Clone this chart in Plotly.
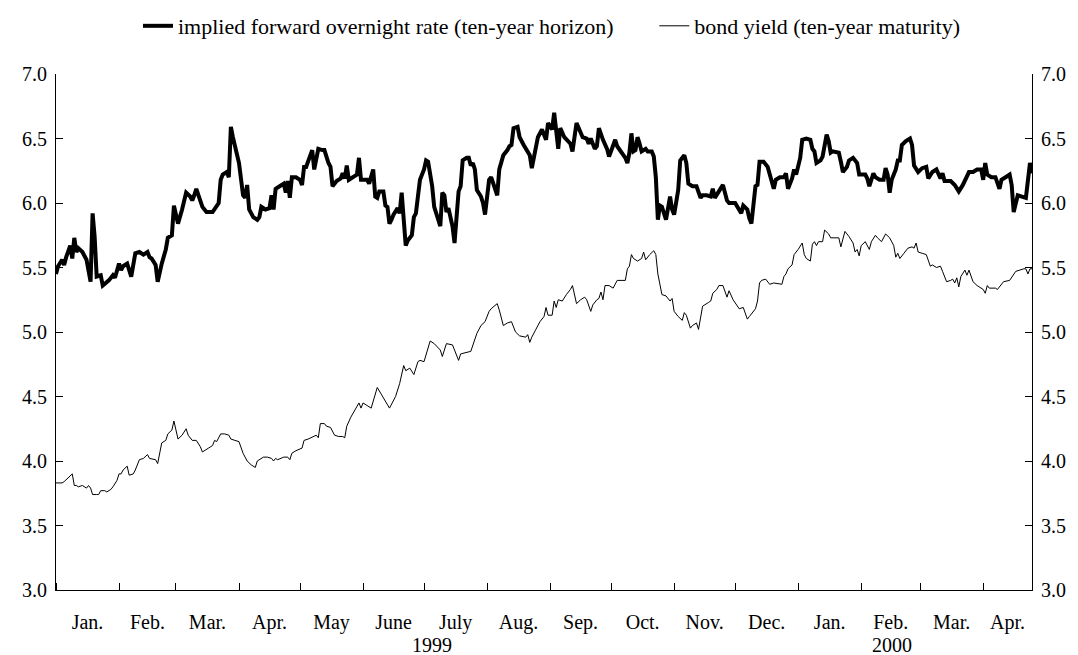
import pandas as pd
import plotly.graph_objects as go

# ---------------- data ----------------
# x values: calendar days since 1999-01-01
fwd_day = [
    0, 1, 3, 4, 5, 7, 8, 9, 10, 11,
    13, 15, 17, 18, 19, 20, 22, 23, 26, 28,
    29, 31, 32, 33, 35, 37, 39, 41, 43, 45,
    46, 47, 49, 50, 52, 54, 55, 57, 58, 60,
    62, 64, 66, 67, 68, 69, 72, 74, 77, 79,
    80, 81, 82, 84, 85, 86, 87, 90, 92, 93,
    94, 95, 97, 99, 100, 101, 103, 105, 106, 107,
    108, 110, 112, 113, 114, 115, 116, 118, 120, 121,
    122, 123, 124, 126, 127, 129, 131, 132, 134, 135,
    136, 138, 140, 141, 142, 143, 144, 146, 148, 149,
    150, 153, 154, 156, 157, 158, 159, 161, 162, 163,
    164, 165, 166, 168, 169, 170, 172, 173, 175, 176,
    177, 178, 179, 181, 182, 183, 185, 186, 187, 189,
    190, 191, 192, 193, 195, 196, 197, 198, 199, 200,
    202, 203, 204, 205, 206, 207, 209, 210, 211, 213,
    214, 215, 217, 218, 220, 222, 223, 224, 225, 227,
    228, 230, 232, 233, 234, 236, 237, 239, 241, 242,
    243, 244, 245, 246, 247, 248, 250, 253, 254, 256,
    258, 259, 261, 262, 263, 265, 266, 267, 269, 271,
    272, 274, 275, 276, 278, 280, 281, 282, 283, 284,
    285, 286, 287, 288, 290, 291, 293, 294, 295, 296,
    297, 298, 300, 301, 302, 303, 304, 306, 307, 309,
    310, 311, 313, 315, 317, 318, 320, 322, 323, 324,
    326, 328, 330, 331, 334, 335, 337, 338, 340, 341,
    342, 344, 345, 346, 348, 350, 351, 353, 354, 356,
    358, 359, 360, 362, 363, 364, 366, 367, 369, 371,
    372, 373, 374, 376, 377, 379, 380, 381, 382, 385,
    386, 387, 389, 390, 392, 394, 395, 398, 399, 400,
    402, 403, 405, 407, 408, 409, 410, 411, 413, 414,
    415, 416, 418, 420, 421, 422, 424, 426, 428, 429,
    431, 433, 435, 436, 437, 440, 442, 444, 446, 448,
    449, 451, 453, 455, 456, 457, 458, 460, 462, 464,
    465, 467, 469, 470, 471, 473, 475, 477, 479, 480,
]
fwd_val = [
    5.45, 5.51, 5.56, 5.52, 5.58, 5.67, 5.57, 5.73, 5.62, 5.65,
    5.62, 5.56, 5.39, 5.92, 5.74, 5.43, 5.44, 5.36, 5.40, 5.44,
    5.42, 5.53, 5.48, 5.51, 5.53, 5.43, 5.61, 5.62, 5.60, 5.62,
    5.58, 5.57, 5.52, 5.39, 5.53, 5.64, 5.73, 5.75, 5.98, 5.84,
    5.95, 6.08, 6.05, 6.02, 6.06, 6.11, 5.97, 5.93, 5.93, 5.98,
    6.00, 6.18, 6.22, 6.24, 6.20, 6.59, 6.51, 6.31, 6.06, 6.04,
    6.14, 5.95, 5.89, 5.87, 5.89, 5.97, 5.95, 5.96, 6.06, 5.95,
    6.11, 6.13, 6.15, 6.08, 6.17, 6.04, 6.20, 6.20, 6.18, 6.14,
    6.28, 6.28, 6.32, 6.41, 6.26, 6.42, 6.41, 6.41, 6.31, 6.28,
    6.13, 6.17, 6.19, 6.23, 6.19, 6.29, 6.18, 6.20, 6.22, 6.35,
    6.18, 6.18, 6.15, 6.26, 6.05, 6.04, 6.09, 6.09, 5.98, 5.97,
    5.84, 5.87, 5.91, 5.96, 5.92, 6.08, 5.67, 5.71, 5.75, 5.89,
    5.92, 6.05, 6.18, 6.26, 6.33, 6.32, 6.13, 5.97, 5.91, 5.82,
    6.08, 6.06, 5.93, 5.96, 5.82, 5.69, 5.89, 6.09, 6.13, 6.33,
    6.35, 6.35, 6.29, 6.31, 6.26, 6.10, 6.05, 6.00, 5.91, 6.18,
    6.20, 6.15, 6.06, 6.26, 6.37, 6.41, 6.44, 6.45, 6.58, 6.59,
    6.51, 6.45, 6.40, 6.37, 6.27, 6.41, 6.51, 6.57, 6.49, 6.62,
    6.59, 6.57, 6.70, 6.54, 6.42, 6.58, 6.51, 6.46, 6.40, 6.62,
    6.55, 6.51, 6.50, 6.46, 6.50, 6.42, 6.44, 6.58, 6.49, 6.42,
    6.36, 6.44, 6.49, 6.44, 6.39, 6.35, 6.31, 6.39, 6.54, 6.40,
    6.41, 6.51, 6.46, 6.40, 6.42, 6.40, 6.40, 6.36, 6.20, 5.87,
    5.98, 5.97, 5.87, 5.98, 6.05, 5.95, 5.91, 6.10, 6.33, 6.37,
    6.31, 6.15, 6.13, 6.13, 6.04, 6.06, 6.06, 6.05, 6.11, 6.04,
    6.09, 6.14, 6.02, 6.00, 6.00, 5.97, 5.92, 5.98, 5.95, 5.88,
    5.84, 6.13, 6.14, 6.32, 6.32, 6.28, 6.22, 6.11, 6.18, 6.20,
    6.20, 6.23, 6.11, 6.19, 6.26, 6.22, 6.35, 6.49, 6.50, 6.49,
    6.42, 6.40, 6.31, 6.33, 6.36, 6.53, 6.48, 6.39, 6.40, 6.39,
    6.32, 6.24, 6.28, 6.33, 6.35, 6.31, 6.22, 6.22, 6.19, 6.13,
    6.23, 6.20, 6.18, 6.18, 6.27, 6.22, 6.08, 6.18, 6.26, 6.33,
    6.33, 6.45, 6.48, 6.50, 6.45, 6.29, 6.24, 6.27, 6.28, 6.19,
    6.24, 6.26, 6.19, 6.23, 6.17, 6.17, 6.14, 6.09, 6.14, 6.20,
    6.24, 6.24, 6.26, 6.26, 6.18, 6.31, 6.22, 6.20, 6.20, 6.11,
    6.18, 6.20, 6.22, 6.14, 5.93, 6.06, 6.05, 6.04, 6.31, 6.23,
]

bond_day = [
    0, 1, 3, 4, 6, 8, 9, 10, 11, 13,
    15, 16, 17, 18, 20, 21, 22, 24, 25, 27,
    28, 30, 31, 32, 33, 35, 36, 38, 39, 41,
    43, 45, 46, 49, 50, 52, 54, 55, 57, 58,
    60, 62, 64, 65, 67, 69, 71, 72, 75, 77,
    78, 79, 81, 83, 85, 86, 88, 90, 92, 94,
    96, 98, 99, 102, 104, 106, 107, 108, 109, 112,
    114, 115, 116, 118, 121, 122, 124, 127, 128, 129,
    130, 132, 133, 135, 137, 139, 141, 142, 143, 145,
    148, 149, 150, 151, 153, 155, 158, 160, 164, 167,
    169, 171, 172, 174, 176, 178, 179, 181, 184, 186,
    189, 190, 192, 195, 198, 199, 202, 204, 207, 209,
    211, 213, 214, 217, 218, 220, 222, 224, 226, 228,
    231, 232, 233, 234, 236, 238, 240, 241, 242, 244,
    245, 246, 247, 249, 251, 253, 254, 256, 258, 260,
    261, 263, 264, 266, 267, 268, 269, 270, 272, 274,
    276, 280, 281, 282, 283, 284, 286, 288, 289, 290,
    292, 294, 295, 296, 298, 300, 302, 303, 304, 306,
    308, 309, 310, 312, 313, 315, 316, 317, 318, 321,
    322, 323, 325, 326, 328, 330, 331, 333, 335, 336,
    338, 340, 341, 343, 344, 345, 346, 347, 349, 351,
    353, 357, 358, 359, 360, 362, 363, 365, 367, 368,
    369, 371, 372, 373, 374, 375, 377, 378, 380, 381,
    385, 386, 388, 390, 392, 393, 394, 395, 396, 398,
    400, 401, 403, 404, 406, 408, 410, 412, 413, 414,
    415, 417, 419, 421, 422, 423, 424, 426, 428, 430,
    431, 433, 435, 436, 438, 440, 441, 442, 443, 444,
    445, 447, 448, 449, 451, 453, 456, 457, 458, 459,
    462, 463, 466, 469, 472, 476, 477, 478, 479, 480,
]
bond_val = [
    3.83, 3.83, 3.83, 3.84, 3.87, 3.90, 3.81, 3.81, 3.80, 3.81,
    3.79, 3.81, 3.79, 3.74, 3.74, 3.74, 3.77, 3.77, 3.76, 3.78,
    3.80, 3.85, 3.90, 3.90, 3.93, 3.96, 3.89, 3.90, 3.93, 4.01,
    4.02, 4.05, 4.02, 4.01, 3.98, 4.14, 4.16, 4.21, 4.24, 4.31,
    4.17, 4.20, 4.25, 4.20, 4.16, 4.16, 4.11, 4.07, 4.10, 4.12,
    4.16, 4.15, 4.21, 4.21, 4.20, 4.17, 4.16, 4.15, 4.06, 4.00,
    3.97, 3.95, 4.00, 4.03, 4.03, 4.02, 4.00, 4.02, 4.01, 4.03,
    4.03, 4.01, 4.06, 4.08, 4.10, 4.16, 4.17, 4.19, 4.20, 4.18,
    4.29, 4.29, 4.27, 4.26, 4.20, 4.19, 4.19, 4.18, 4.27, 4.34,
    4.42, 4.45, 4.41, 4.45, 4.43, 4.41, 4.57, 4.52, 4.41, 4.50,
    4.60, 4.74, 4.70, 4.72, 4.67, 4.77, 4.78, 4.77, 4.93, 4.91,
    4.86, 4.81, 4.91, 4.90, 4.78, 4.83, 4.84, 4.85, 4.99, 5.05,
    5.08, 5.16, 5.18, 5.22, 5.17, 5.05, 5.07, 5.08, 5.00, 4.97,
    4.96, 4.98, 4.92, 4.96, 5.02, 5.08, 5.12, 5.19, 5.13, 5.13,
    5.24, 5.19, 5.25, 5.24, 5.29, 5.33, 5.36, 5.22, 5.25, 5.27,
    5.25, 5.16, 5.21, 5.25, 5.26, 5.31, 5.25, 5.36, 5.36, 5.34,
    5.40, 5.40, 5.49, 5.51, 5.60, 5.57, 5.55, 5.57, 5.62, 5.56,
    5.60, 5.63, 5.60, 5.45, 5.29, 5.28, 5.24, 5.26, 5.16, 5.12,
    5.09, 5.15, 5.13, 5.03, 5.05, 5.07, 5.02, 5.12, 5.20, 5.23,
    5.24, 5.30, 5.33, 5.36, 5.36, 5.27, 5.32, 5.25, 5.20, 5.18,
    5.19, 5.10, 5.12, 5.16, 5.18, 5.24, 5.38, 5.40, 5.41, 5.37,
    5.38, 5.37, 5.43, 5.45, 5.49, 5.52, 5.60, 5.64, 5.69, 5.60,
    5.57, 5.55, 5.68, 5.70, 5.67, 5.70, 5.70, 5.79, 5.76, 5.73,
    5.73, 5.66, 5.78, 5.74, 5.69, 5.62, 5.64, 5.59, 5.67, 5.70,
    5.64, 5.70, 5.75, 5.73, 5.70, 5.76, 5.73, 5.67, 5.58, 5.61,
    5.57, 5.61, 5.65, 5.66, 5.65, 5.69, 5.62, 5.61, 5.60, 5.51,
    5.52, 5.50, 5.51, 5.47, 5.39, 5.40, 5.41, 5.38, 5.42, 5.35,
    5.43, 5.48, 5.44, 5.48, 5.39, 5.36, 5.33, 5.30, 5.36, 5.34,
    5.34, 5.33, 5.39, 5.40, 5.47, 5.49, 5.49, 5.45, 5.49, 5.49,
]

month_labels = ["Jan.", "Feb.", "Mar.", "Apr.", "May", "June", "July", "Aug.",
                "Sep.", "Oct.", "Nov.", "Dec.", "Jan.", "Feb.", "Mar.", "Apr."]
year_labels = ["1999", "2000"]
year_label_dates = ["1999-07-05", "2000-02-16"]

fwd_name = "implied forward overnight rate (ten-year horizon)"
bond_name = "bond yield (ten-year maturity)"

assert len(fwd_day) == len(fwd_val)
assert len(bond_day) == len(bond_val)

# ---------------- figure ----------------
base = pd.Timestamp("1999-01-01")
x_start = base
x_end = base + pd.Timedelta(days=max(fwd_day))

fwd_x = base + pd.to_timedelta(fwd_day, unit="D")
bond_x = base + pd.to_timedelta(bond_day, unit="D")

starts = list(pd.date_range("1999-01-01", periods=len(month_labels), freq="MS"))
ends = starts[1:] + [x_end]
mids = [s + (e - s) / 2 for s, e in zip(starts, ends)]

FONT = "Liberation Serif"
FS = 20
LFS = 22

fig = go.Figure()
fig.add_trace(go.Scatter(x=fwd_x, y=fwd_val, mode="lines", name=fwd_name,
                         line=dict(color="black", width=4), legend="legend"))
fig.add_trace(go.Scatter(x=bond_x, y=bond_val, mode="lines", name=bond_name,
                         line=dict(color="black", width=1), yaxis="y2",
                         legend="legend2"))

yax = dict(range=[3, 7], tickmode="linear", tick0=3, dtick=0.5, tickformat=".1f",
           ticks="inside", ticklen=7, tickcolor="black", showline=True,
           linecolor="black", linewidth=1, showgrid=False, zeroline=False,
           ticklabelstandoff=4,
           tickfont=dict(family=FONT, size=FS, color="black"))

leg = dict(orientation="h", xanchor="left", y=1.093, yanchor="middle",
           font=dict(family=FONT, size=LFS, color="black"),
           bgcolor="rgba(0,0,0,0)")

fig.update_layout(
    width=1078, height=655,
    margin=dict(l=56, r=46, t=74, b=65, autoexpand=False),
    paper_bgcolor="white", plot_bgcolor="white",
    font=dict(family=FONT, size=FS, color="black"),
    showlegend=True,
    legend=dict(leg, x=0.084),
    legend2=dict(leg, x=0.613),
    xaxis=dict(type="date", range=[x_start, x_end], tickmode="array",
               tickvals=mids, ticktext=month_labels, ticks="",
               showline=True, linecolor="black", linewidth=1, showgrid=False,
               zeroline=False, ticklabelstandoff=14,
               tickfont=dict(family=FONT, size=FS, color="black"),
               minor=dict(ticks="inside", ticklen=7, tickcolor="black",
                          tickmode="array", tickvals=starts, showgrid=False)),
    yaxis=yax,
    yaxis2=dict(yax, overlaying="y", side="right"),
)

for lab, d in zip(year_labels, year_label_dates):
    fig.add_annotation(x=d, y=-0.107, xref="x", yref="paper", text=lab,
                       showarrow=False, yanchor="middle",
                       font=dict(family=FONT, size=FS, color="black"))

fig.write_html("out.html")
